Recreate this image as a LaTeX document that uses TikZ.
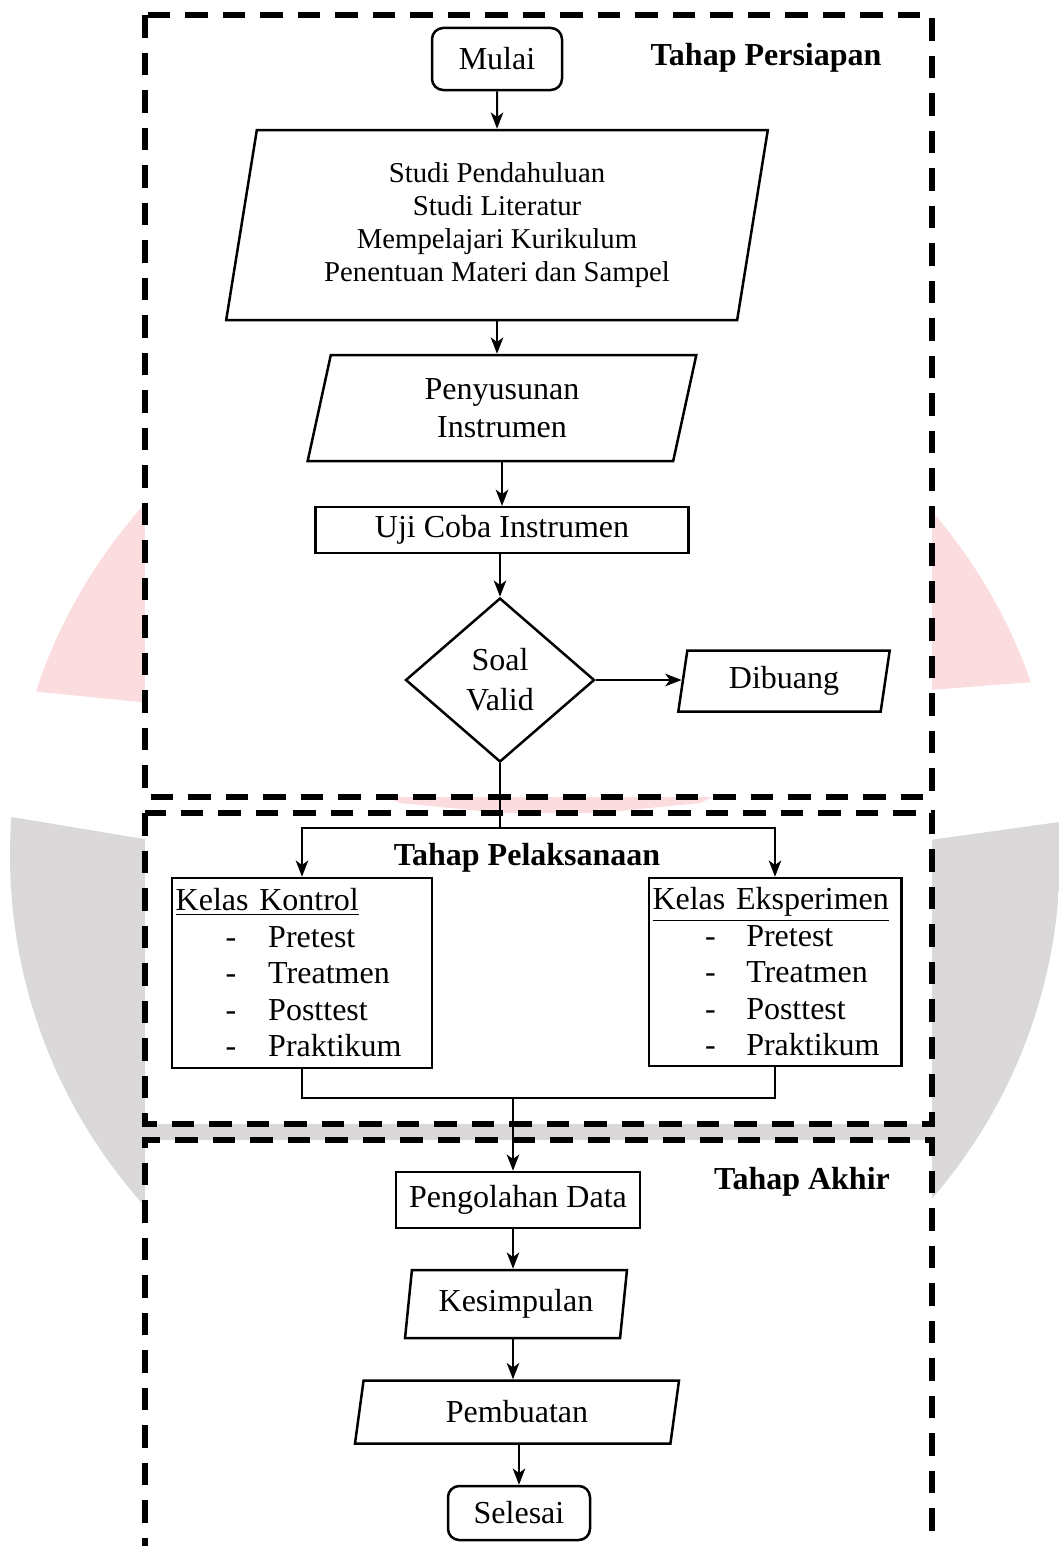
\documentclass[tikz,border=0pt]{standalone}
\usepackage{fontspec}
\setmainfont{Liberation Serif}
\usetikzlibrary{shapes.geometric,arrows.meta,positioning}

\definecolor{merahlogo}{RGB}{252,221,223}
\definecolor{abulogo}{RGB}{218,216,217}

\tikzset{
  tahap/.style={line width=2.3pt, dash pattern=on 9pt off 6pt},
  terminal/.style={draw, line width=1pt, rounded corners=4.5pt, align=center},
  proses/.style={draw, line width=1pt, align=center},
  data/.style={draw, line width=1pt, trapezium, trapezium left angle=80,
    trapezium right angle=100, trapezium stretches=true, align=center, inner sep=0pt},
  keputusan/.style={draw, line width=1pt, diamond, align=center, inner sep=0pt},
  kelas/.style={draw, line width=1pt, align=left, inner xsep=1.5pt,
    font=\fontsize{12.8}{14.6}\selectfont},
  judul/.style={font=\fontsize{12.8}{15}\selectfont\bfseries},
  panah/.style={-{Stealth[length=6.5pt,width=5pt,inset=1.8pt]}, line width=0.8pt},
  garis/.style={line width=0.8pt}
}

\begin{document}
\begin{tikzpicture}[x=0.4pt, y=-0.4pt, font=\fontsize{12.8}{15.2}\selectfont]
        \useasboundingbox (0,0) rectangle (1059,1546);
        \clip (0,0) rectangle (1059,1546);

        % logo di latar
        \begin{scope}
            \clip (535,855) circle [radius=210pt];
            \fill[merahlogo] (0,300) -- (1059,300) -- (1059,680) -- (930,690) -- (700,803)
                -- (550,818) -- (400,803) -- (150,703) -- (0,688) -- cycle;
            \fill[abulogo] (0,815) -- (150,840) -- (550,950) -- (930,840) -- (1059,822)
                -- (1059,1400) -- (0,1400) -- cycle;
        \end{scope}

        % bingkai tahap
        \fill[white] (145,15) rectangle (932,797);
        \draw[tahap] (145,15) rectangle (932,797);
        \fill[white] (145,813) rectangle (932,1124);
        \draw[tahap] (145,813) rectangle (932,1124);
        \fill[white] (145,1140) rectangle (932,1546);
        \draw[tahap] (145,1560) -- (145,1140) -- (932,1140) -- (932,1560);

        \node[judul] (persiapan) at (766,58) {Tahap Persiapan};
        \node[judul] (pelaksanaan) at (527,858) {Tahap Pelaksanaan};
        \node[judul] (akhir) at (802,1182) {Tahap Akhir};

        \node[terminal, minimum width=52pt, minimum height=24.8pt] (mulai) at (497,59) {Mulai};
        \node[data, minimum width=216.8pt, minimum height=76pt,
            font=\fontsize{11.5}{13.2}\selectfont] (studi) at (497,225)
            {Studi Pendahuluan\\Studi Literatur\\Mempelajari Kurikulum\\Penentuan Materi dan Sampel};
        \node[data, minimum width=156pt, minimum height=42.4pt] (susun) at (502,408)
            {Penyusunan\\Instrumen};
        \node[proses, minimum width=149.2pt, minimum height=17.6pt] (uji) at (502,530)
            {Uji Coba Instrumen};
        \node[keputusan, minimum width=75.6pt, minimum height=65.6pt,
            font=\fontsize{12.8}{16}\selectfont] (valid) at (500,680) {Soal\\Valid};
        \node[data, minimum width=84.8pt, minimum height=24.4pt] (buang) at (784,681) {Dibuang};

        \node[kelas, text width=101pt, minimum height=76pt] (kontrol) at (302,973)
            {\underline{Kelas Kontrol}\\
             \hspace*{20pt}\makebox[17pt][l]{-}Pretest\\
             \hspace*{20pt}\makebox[17pt][l]{-}Treatmen\\
             \hspace*{20pt}\makebox[17pt][l]{-}Posttest\\
             \hspace*{20pt}\makebox[17pt][l]{-}Praktikum};
        \node[kelas, text width=98pt, minimum height=75.2pt] (eksperimen) at (775,972)
            {\underline{Kelas Eksperimen}\\
             \hspace*{21pt}\makebox[16.5pt][l]{-}Pretest\\
             \hspace*{21pt}\makebox[16.5pt][l]{-}Treatmen\\
             \hspace*{21pt}\makebox[16.5pt][l]{-}Posttest\\
             \hspace*{21pt}\makebox[16.5pt][l]{-}Praktikum};

        \node[proses, minimum width=97.6pt, minimum height=22.4pt] (olah) at (518,1200)
            {Pengolahan Data};
        \node[data, minimum width=89.2pt, minimum height=27.2pt] (simpul) at (516,1304)
            {Kesimpulan};
        \node[data, minimum width=130pt, minimum height=25.2pt] (buat) at (517,1412)
            {Pembuatan};
        \node[terminal, minimum width=56.8pt, minimum height=21.6pt] (selesai) at (519,1513)
            {Selesai};

        \coordinate (cabang) at (500,828);
        \coordinate (gabung) at (513,1098);

        \draw[panah] (mulai) -- (studi);
        \draw[panah] (studi.south) -- (studi.south |- susun.north);
        \draw[panah] (susun.south) -- (susun.south |- uji.north);
        \draw[panah] (valid.north |- uji.south) -- (valid.north);
        \draw[panah] (valid.east) -- (valid.east -| buang.west);
        \draw[garis] (valid.south) -- (cabang);
        \draw[panah] (cabang) -| (kontrol.north);
        \draw[panah] (cabang) -| (eksperimen.north);
        \draw[garis] (kontrol.south) |- (gabung);
        \draw[garis] (eksperimen.south) |- (gabung);
        \draw[panah] (gabung) -- (gabung |- olah.north);
        \draw[panah] (gabung |- olah.south) -- (gabung |- simpul.north);
        \draw[panah] (gabung |- simpul.south) -- (gabung |- buat.north);
        \draw[panah] (selesai.north |- buat.south) -- (selesai.north);
    \end{tikzpicture}
\end{document}
